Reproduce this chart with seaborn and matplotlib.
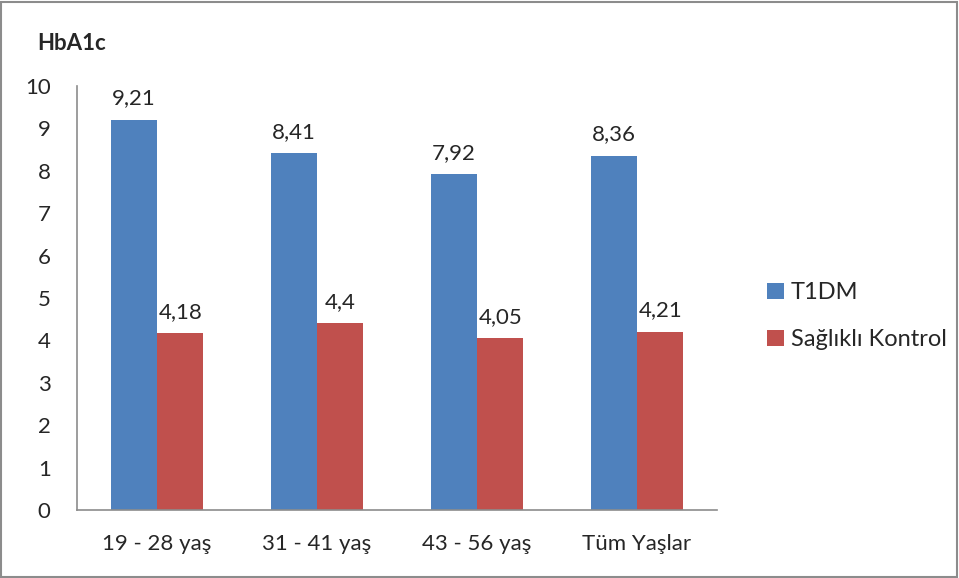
import pandas as pd
import matplotlib
matplotlib.use("Agg")
import matplotlib.pyplot as plt
import seaborn as sns
from matplotlib.patches import Rectangle

# data
groups = ["19 - 28 yaş", "31 - 41 yaş", "43 - 56 yaş", "Tüm Yaşlar"]
series = ["T1DM", "Sağlıklı Kontrol"]
t1dm = [9.21, 8.41, 7.92, 8.36]
kontrol = [4.18, 4.4, 4.05, 4.21]
yticks = list(range(0, 11))

df = pd.DataFrame({
    "grup": groups * 2,
    "seri": [series[0]] * len(groups) + [series[1]] * len(groups),
    "deger": t1dm + kontrol,
})

sns.set_style("white")
plt.rcParams["font.family"] = ["Lato", "DejaVu Sans"]
fs = 16

fig = plt.figure(figsize=(9.59, 5.78), dpi=100)
ax = fig.add_axes([0.0803, 0.1176, 0.6674, 0.7336])

sns.barplot(
    data=df, x="grup", y="deger", hue="seri",
    palette=["#4F81BD", "#C0504D"], width=0.58, gap=0,
    saturation=1, linewidth=0, ax=ax, legend=True,
)

for cont in ax.containers:
    labels = [f"{v:g}".replace(".", ",") for v in cont.datavalues]
    ax.bar_label(cont, labels=labels, padding=8, fontsize=fs)

ax.set_ylim(0, 10)
ax.set_xlim(-0.5, 3.5)
ax.set_yticks(yticks)
ax.set_xlabel("")
ax.set_ylabel("")
ax.tick_params(axis="y", length=0, pad=19, labelsize=fs)
ax.tick_params(axis="x", length=0, pad=17, labelsize=fs)
for lab in ax.get_yticklabels():
    lab.set_horizontalalignment("right")

for side in ["top", "right"]:
    ax.spines[side].set_visible(False)
for side in ["left", "bottom"]:
    ax.spines[side].set_color("#8C8C8C")
    ax.spines[side].set_linewidth(1.2)

fig.text(0.039, 0.925, "HbA1c", fontsize=fs, fontweight="bold", va="center")

leg = ax.legend(
    loc="center left", bbox_to_anchor=(1.045, 0.457), frameon=False,
    fontsize=17, handlelength=0.7, handleheight=0.7, handletextpad=0.3,
    labelspacing=1.1,
)

fig.patches.append(Rectangle((0.001, 0.002), 0.997, 0.995, transform=fig.transFigure,
                             fill=False, edgecolor="#8C8C8C", linewidth=1.5))

fig.savefig("out.png", dpi=100)
